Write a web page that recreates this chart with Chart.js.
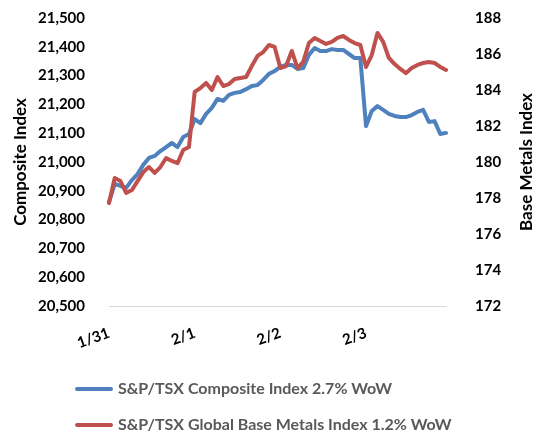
<!DOCTYPE html>
<html>
<head>
<meta charset="utf-8">
<script src="https://cdn.jsdelivr.net/npm/chart.js@4.4.1/dist/chart.umd.min.js"></script>
<style>
  html, body { margin: 0; padding: 0; background: #fff; }
  #wrap { position: relative; width: 535px; height: 433px; }
  .legend-item { position: absolute; left: 75px; height: 20px; line-height: 20px; white-space: nowrap;
                 font: bold 16px Lato, sans-serif; color: #595959; }
  .swatch { display: inline-block; width: 38px; height: 4px; border-radius: 2px; vertical-align: middle;
            margin-right: 5px; position: relative; top: -1px; }
</style>
</head>
<body>
<div id="wrap">
  <canvas id="chart" width="535" height="433"></canvas>
  <div id="legend"></div>
</div>
<script>
// four trading days, 15 readings each
const days = ['1/31', '2/1', '2/2', '2/3'];
const pointsPerDay = 15;

const seriesNames = [
    'S&P/TSX Composite Index 2.7% WoW',
    'S&P/TSX Global Base Metals Index 1.2% WoW'
];
const seriesColors = ['#4F81BD', '#C0504D'];

// left axis
const composite = [
    20861, 20924, 20917, 20910, 20937, 20958, 20990, 21014, 21021, 21038,
    21052, 21066, 21052, 21087, 21097, 21149, 21135, 21167, 21188, 21219,
    21212, 21233, 21240, 21243, 21253, 21264, 21267, 21285, 21306, 21316,
    21330, 21337, 21337, 21323, 21326, 21372, 21396, 21385, 21385, 21392,
    21389, 21389, 21375, 21361, 21361, 21125, 21177, 21194, 21181, 21167,
    21160, 21156, 21156, 21163, 21174, 21181, 21139, 21142, 21097, 21101
];

// right axis
const baseMetals = [
    177.72, 179.11, 178.94, 178.28, 178.44, 178.94, 179.44, 179.72, 179.39, 179.72,
    180.22, 180.06, 179.94, 180.67, 180.83, 183.89, 184.11, 184.39, 184.00, 184.72,
    184.22, 184.33, 184.61, 184.67, 184.72, 185.33, 185.89, 186.11, 186.50, 186.39,
    185.22, 185.33, 186.17, 185.22, 185.56, 186.61, 186.89, 186.72, 186.56, 186.67,
    186.89, 187.00, 186.78, 186.61, 186.50, 185.28, 185.94, 187.17, 186.67, 185.78,
    185.44, 185.17, 184.94, 185.22, 185.39, 185.50, 185.56, 185.50, 185.28, 185.11
];

const leftTitle = 'Composite Index';
const rightTitle = 'Base Metals Index';

const labels = composite.map((v, i) => days[Math.floor(i / pointsPerDay)]);

const tickFont = { family: 'Lato', size: 15, weight: 'bold' };

// legend as html rows
const legendBox = document.getElementById('legend');
seriesNames.forEach((name, i) => {
    const row = document.createElement('div');
    row.className = 'legend-item';
    row.style.top = (378 + i * 36) + 'px';
    const sw = document.createElement('span');
    sw.className = 'swatch';
    sw.style.background = seriesColors[i];
    row.appendChild(sw);
    row.appendChild(document.createTextNode(name));
    legendBox.appendChild(row);
});

// right axis title reads bottom-to-top, Chart.js would turn it the other way
const rightTitlePlugin = {
    id: 'rightTitle',
    afterDraw(chart) {
        const ctx = chart.ctx;
        const area = chart.chartArea;
        const scale = chart.scales.y1;
        ctx.save();
        ctx.translate(scale.right - 8, (area.top + area.bottom) / 2);
        ctx.rotate(-Math.PI / 2);
        ctx.font = 'bold 17px Lato';
        ctx.fillStyle = '#000';
        ctx.textAlign = 'center';
        ctx.textBaseline = 'middle';
        ctx.fillText(rightTitle, 0, 0);
        ctx.restore();
    }
};

new Chart(document.getElementById('chart'), {
    type: 'line',
    data: {
        labels: labels,
        datasets: [
            {
                label: seriesNames[0],
                data: composite,
                yAxisID: 'y',
                borderColor: seriesColors[0],
                borderWidth: 4,
                pointRadius: 0,
                tension: 0,
                borderJoinStyle: 'round',
                borderCapStyle: 'round',
                order: 1
            },
            {
                label: seriesNames[1],
                data: baseMetals,
                yAxisID: 'y1',
                borderColor: seriesColors[1],
                borderWidth: 4,
                pointRadius: 0,
                tension: 0,
                borderJoinStyle: 'round',
                borderCapStyle: 'round',
                order: 0
            }
        ]
    },
    options: {
        responsive: false,
        animation: false,
        layout: { padding: { top: 18, left: 0, right: 0, bottom: 0 } },
        plugins: {
            legend: { display: false },
            tooltip: { enabled: false }
        },
        scales: {
            x: {
                offset: false,
                grid: { display: false, drawTicks: false },
                border: { display: true, color: '#d9d9d9', width: 1 },
                ticks: {
                    autoSkip: false,
                    minRotation: 20,
                    maxRotation: 20,
                    padding: 18,
                    color: '#000',
                    font: tickFont,
                    callback: function (value, index) {
                        return index % pointsPerDay === 0 ? this.getLabelForValue(value) : '';
                    }
                },
                afterFit: s => { s.height = 127; }
            },
            y: {
                position: 'left',
                min: 20500,
                max: 21500,
                // hidden grid; tickLength only spaces the labels off the plot
                grid: { display: false, drawTicks: true, tickLength: 21 },
                border: { display: false },
                ticks: {
                    stepSize: 100,
                    padding: 3,
                    color: '#000',
                    font: tickFont,
                    callback: v => v.toLocaleString('en-US')
                },
                title: {
                    display: true,
                    text: leftTitle,
                    color: '#000',
                    font: { family: 'Lato', size: 17, weight: 'bold' },
                    padding: { top: 10, bottom: 0 }
                },
                afterFit: s => { s.width = 109; }
            },
            y1: {
                position: 'right',
                min: 172,
                max: 188,
                grid: { display: false, drawTicks: true, tickLength: 26 },
                border: { display: false },
                ticks: {
                    stepSize: 2,
                    padding: 3,
                    color: '#000',
                    font: tickFont
                },
                afterFit: s => { s.width = 89; }
            }
        }
    },
    plugins: [rightTitlePlugin]
});
</script>
</body>
</html>
